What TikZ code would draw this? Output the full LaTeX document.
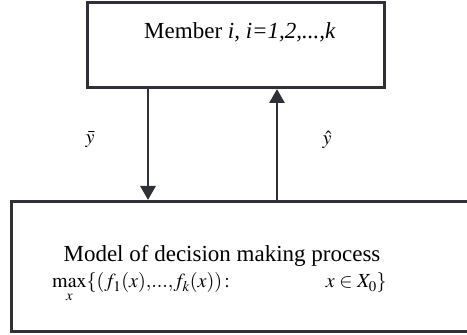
\documentclass[tikz,border=0pt]{standalone}
\usepackage{mathptmx}
\usepackage{fontspec}
\setmainfont{Liberation Serif}
\usetikzlibrary{arrows.meta}
\definecolor{lin}{HTML}{303038}
\begin{document}
\begin{tikzpicture}[x=1pt,y=1pt,
  box/.style={draw=lin,line width=3pt,inner sep=0pt,anchor=south west},
  arr/.style={draw=lin,line width=2.8pt,-{Triangle[width=15pt,length=14pt]}},
  txt/.style={inner sep=0pt,font=\fontsize{23}{27}\selectfont},
  mth/.style={inner sep=0pt,font=\fontsize{20}{24}\selectfont}]
\useasboundingbox (0,0) rectangle (467,335);
\node[box, minimum width=297pt, minimum height=85pt] (topbox) at (86,246) {};
\node[box, minimum width=470pt, minimum height=130pt] (botbox) at (10,2) {};
\coordinate (c1) at (148,0);
\coordinate (c2) at (277,0);
\draw[arr] (topbox.south -| c1) -- (botbox.north -| c1);
\draw[arr] (botbox.north -| c2) -- (topbox.south -| c2);
\node[txt, anchor=base] (t1) at (240,296) {Member \textit{i, i=1,2,...,k}};
\node[txt, anchor=base] (t2) at (222,73) {Model of decision making process};
\node[mth, anchor=base west] (t3) at (52,47) {$\max\limits_x\{(f_1(x){,}...{,}f_k(x))\,{:}\hspace{4.8em} x\in X_0\}$};
\node[mth] (ybar) at (90,195) {$\bar y$};
\node[mth] (yhat) at (327,195) {$\hat y$};
\end{tikzpicture}
\end{document}
